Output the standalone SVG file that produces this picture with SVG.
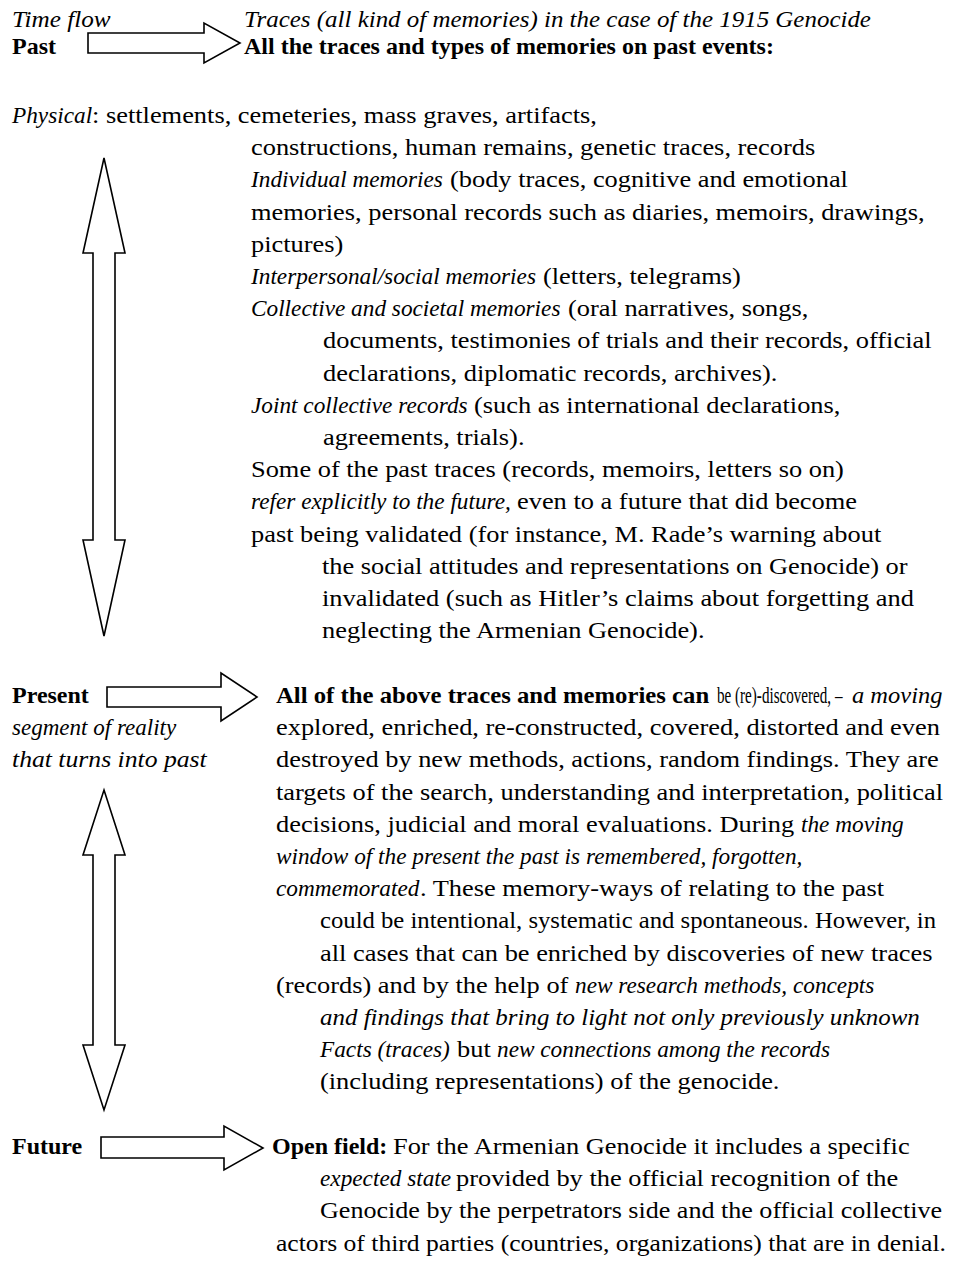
<svg xmlns="http://www.w3.org/2000/svg" width="958" height="1261" viewBox="0 0 958 1261">
<style>
.bg{fill:#fff}
.arrow{fill:#fff;stroke:#000;stroke-width:1.6;stroke-linejoin:miter}
text{font-family:"Liberation Serif",serif;font-size:24px;fill:#000}
.i{font-style:italic}
.b{font-weight:bold}
</style>
<rect class="bg" x="0" y="0" width="958" height="1261"/>
<g id="connectors">
<polygon class="arrow" points="88,33 204,33 204,23 240,43 204,63 204,53 88,53"/>
<polygon class="arrow" points="107,687 221,687 221,673 257,697 221,721 221,707 107,707"/>
<polygon class="arrow" points="101,1137 224,1137 224,1126 263,1148 224,1170 224,1158 101,1158"/>
<polygon class="arrow" points="104,158 125,253 115,253 115,540 125,540 104,636 83,540 93,540 93,253 83,253"/>
<polygon class="arrow" points="104,790 125,855 115,855 115,1045 125,1045 104,1110 83,1045 93,1045 93,855 83,855"/>
</g>
<g id="timeflow-label">
<text class="i" transform="translate(12 27) scale(1.05 1)">Time flow</text>
</g>
<g id="past-label">
<text class="b" x="12" y="54">Past</text>
</g>
<g id="header">
<text class="i" transform="translate(244 27) scale(1.04 1)">Traces (all kind of memories) in the case of the 1915 Genocide</text>
<text class="b" x="244" y="54">All the traces and types of memories on past events:</text>
</g>
<g id="past-block">
<text class="i" transform="translate(12 123) scale(0.97 1)">Physical</text>
<text transform="translate(92 123) scale(1.1 1)">: settlements, cemeteries, mass graves, artifacts,</text>
<text transform="translate(251 155) scale(1.1 1)">constructions, human remains, genetic traces, records</text>
<text class="i" transform="translate(251 187) scale(0.97 1)">Individual memories</text>
<text transform="translate(450 187) scale(1.1 1)">(body traces, cognitive and emotional</text>
<text transform="translate(251 220) scale(1.1 1)">memories, personal records such as diaries, memoirs, drawings,</text>
<text transform="translate(251 252) scale(1.1 1)">pictures)</text>
<text class="i" transform="translate(251 284) scale(0.97 1)">Interpersonal/social memories</text>
<text transform="translate(543 284) scale(1.1 1)">(letters, telegrams)</text>
<text class="i" transform="translate(251 316) scale(0.97 1)">Collective and societal memories</text>
<text transform="translate(568 316) scale(1.1 1)">(oral narratives, songs,</text>
<text transform="translate(323 348) scale(1.1 1)">documents, testimonies of trials and their records, official</text>
<text transform="translate(323 381) scale(1.1 1)">declarations, diplomatic records, archives).</text>
<text class="i" transform="translate(251 413) scale(0.97 1)">Joint collective records</text>
<text transform="translate(474 413) scale(1.1 1)">(such as international declarations,</text>
<text transform="translate(323 445) scale(1.1 1)">agreements, trials).</text>
<text transform="translate(251 477) scale(1.1 1)">Some of the past traces (records, memoirs, letters so on)</text>
<text class="i" transform="translate(251 509) scale(0.97 1)">refer explicitly to the future,</text>
<text transform="translate(517 509) scale(1.1 1)">even to a future that did become</text>
<text transform="translate(251 542) scale(1.1 1)">past being validated (for instance, M. Rade’s warning about</text>
<text transform="translate(322 574) scale(1.1 1)">the social attitudes and representations on Genocide) or</text>
<text transform="translate(322 606) scale(1.1 1)">invalidated (such as Hitler’s claims about forgetting and</text>
<text transform="translate(322 638) scale(1.1 1)">neglecting the Armenian Genocide).</text>
</g>
<g id="present-label">
<text class="b" x="12" y="703">Present</text>
<text class="i" transform="translate(12 735) scale(0.96 1)">segment of reality</text>
<text class="i" transform="translate(12 767) scale(1.07 1)">that turns into past</text>
</g>
<g id="present-block">
<text class="b" transform="translate(276 703) scale(1.03 1)">All of the above traces and memories can</text>
<text transform="translate(717 703) scale(0.63 1)">be (re)-discovered, –</text>
<text class="i" transform="translate(852 703) scale(1.02 1)">a moving</text>
<text transform="translate(276 735) scale(1.1 1)">explored, enriched, re-constructed, covered, distorted and even</text>
<text transform="translate(276 767) scale(1.1 1)">destroyed by new methods, actions, random findings. They are</text>
<text transform="translate(276 800) scale(1.1 1)">targets of the search, understanding and interpretation, political</text>
<text transform="translate(276 832) scale(1.1 1)">decisions, judicial and moral evaluations. During</text>
<text class="i" transform="translate(801 832) scale(0.97 1)">the moving</text>
<text class="i" transform="translate(276 864) scale(0.97 1)">window of the present the past is remembered, forgotten,</text>
<text class="i" transform="translate(276 896) scale(0.97 1)">commemorated</text>
<text transform="translate(420 896) scale(1.1 1)">. These memory-ways of relating to the past</text>
<text x="320" y="928" textLength="616" lengthAdjust="spacingAndGlyphs">could be intentional, systematic and spontaneous. However, in</text>
<text transform="translate(320 961) scale(1.1 1)">all cases that can be enriched by discoveries of new traces</text>
<text transform="translate(276 993) scale(1.1 1)">(records) and by the help of</text>
<text class="i" transform="translate(575 993) scale(0.97 1)">new research methods, concepts</text>
<text class="i" transform="translate(320 1025) scale(1.04 1)">and findings that bring to light not only previously unknown</text>
<text class="i" transform="translate(320 1057) scale(0.97 1)">Facts (traces)</text>
<text transform="translate(457 1057) scale(1.1 1)">but</text>
<text class="i" transform="translate(497 1057) scale(0.97 1)">new connections among the records</text>
<text transform="translate(320 1089) scale(1.1 1)">(including representations) of the genocide.</text>
</g>
<g id="future-label">
<text class="b" x="12" y="1154">Future</text>
</g>
<g id="future-block">
<text class="b" x="272" y="1154">Open field:</text>
<text transform="translate(393 1154) scale(1.1 1)">For the Armenian Genocide it includes a specific</text>
<text class="i" transform="translate(320 1186) scale(0.97 1)">expected state</text>
<text transform="translate(456 1186) scale(1.1 1)">provided by the official recognition of the</text>
<text x="320" y="1218" textLength="622" lengthAdjust="spacingAndGlyphs">Genocide by the perpetrators side and the official collective</text>
<text x="276" y="1251" textLength="670" lengthAdjust="spacingAndGlyphs">actors of third parties (countries, organizations) that are in denial.</text>
</g>
</svg>
